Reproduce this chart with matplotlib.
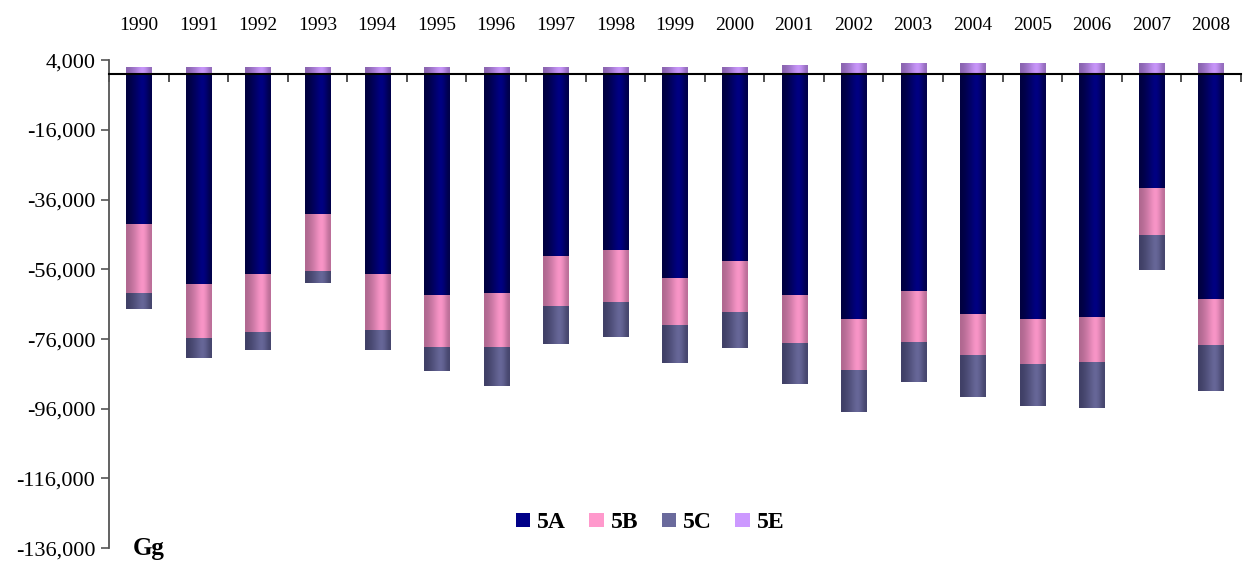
import numpy as np
import matplotlib
matplotlib.use('Agg')
import matplotlib.pyplot as plt
from matplotlib.colors import LinearSegmentedColormap
from matplotlib.patches import Patch

###############################################
### Datos

years = ['1990', '1991', '1992', '1993', '1994', '1995', '1996', '1997', '1998', '1999',
         '2000', '2001', '2002', '2003', '2004', '2005', '2006', '2007', '2008']

a5 = [-43000, -60200, -57300, -40100, -57300, -63400, -62800, -52200, -50400, -58500,
      -53600, -63400, -70200, -62200, -68800, -70200, -69700, -32700, -64500]
b5 = [-19800, -15600, -16700, -16400, -16100, -14900, -15500, -14300, -15000, -13400,
      -14600, -13800, -14700, -14700, -11800, -13000, -12900, -13400, -13200]
c5 = [-4600, -5500, -5100, -3400, -5700, -6900, -11200, -10900, -10000, -11000,
      -10400, -11700, -12000, -11400, -12000, -12000, -13200, -10100, -13200]
e5 = [2000, 2000, 2000, 2000, 2000, 2000, 2000, 2000, 2000, 2000,
      2000, 2600, 3200, 3200, 3200, 3200, 3200, 3200, 3200]

plt.rcParams['font.family'] = ['Liberation Serif', 'DejaVu Serif']

# colores (borde oscuro, centro claro)
cols = {'5A': ('#000040', '#000088'),
        '5B': ('#b06890', '#ff99cc'),
        '5C': ('#404066', '#6a6a9c'),
        '5E': ('#8a64b0', '#cc99ff')}

fig = plt.figure(figsize=(12.46, 5.63), dpi=100)
ax = fig.add_axes([0.0875, 0.0263, 0.9083, 0.8666])

x = np.arange(len(years))
w = 0.42
a5 = np.array(a5); b5 = np.array(b5); c5 = np.array(c5); e5 = np.array(e5)

series = [('5A', a5, 0 * a5), ('5B', b5, a5), ('5C', c5, a5 + b5), ('5E', e5, 0 * e5)]

grad = np.array([[0.0, 0.15, 0.35, 0.6, 0.8, 0.55, 0.1]])
for name, vals, bot in series:
    dark, light = cols[name]
    cmap = LinearSegmentedColormap.from_list(name, [dark, light])
    bars = ax.bar(x, vals, w, bottom=bot, color='none', edgecolor='none')
    for r in bars:
        x0, y0 = r.get_x(), r.get_y()
        x1, y1 = x0 + r.get_width(), y0 + r.get_height()
        im = ax.imshow(grad, cmap=cmap, vmin=0, vmax=0.8, aspect='auto',
                       extent=[x0, x1, min(y0, y1), max(y0, y1)],
                       interpolation='bicubic', zorder=2)
        im.set_clip_path(r)

###############################################
### Ejes

ax.set_xlim(-0.5, len(years) - 0.5)
ax.set_ylim(-136000, 4000)
ax.set_yticks(np.arange(-136000, 4001, 20000))
ax.set_yticklabels(['{:,}'.format(v) for v in range(-136000, 4001, 20000)], fontsize=16)
ax.tick_params(axis='y', direction='out', length=6, width=1.2, color='#555555', pad=4)

ax.spines['top'].set_visible(False)
ax.spines['right'].set_visible(False)
ax.spines['left'].set_color('#555555')
ax.spines['left'].set_linewidth(1.3)
ax.spines['bottom'].set_position(('data', 0))
ax.spines['bottom'].set_linewidth(1.5)
ax.spines['bottom'].set_zorder(3)

ax.set_xticks(np.arange(-0.5, len(years), 1.0))
ax.set_xticklabels([])
ax.tick_params(axis='x', direction='out', length=6, width=1.2, color='#333333')

for i, yr in enumerate(years):
    ax.text(i, 1.072, yr, transform=ax.get_xaxis_transform(), ha='center', va='center',
            fontsize=14)

ax.text(0.021, 0.0, 'Gg', transform=ax.transAxes, fontsize=18, fontweight='bold',
        ha='left', va='center')

handles = [Patch(facecolor=cols[k][1], edgecolor='none', label=k) for k in ['5A', '5B', '5C', '5E']]
leg = ax.legend(handles=handles, loc='center', bbox_to_anchor=(0.478, 0.052), ncol=4,
                frameon=False, handlelength=0.6, handleheight=0.6, handletextpad=0.3,
                columnspacing=1.0, prop={'size': 17, 'weight': 'bold'})

plt.savefig('out.png', dpi=100)
